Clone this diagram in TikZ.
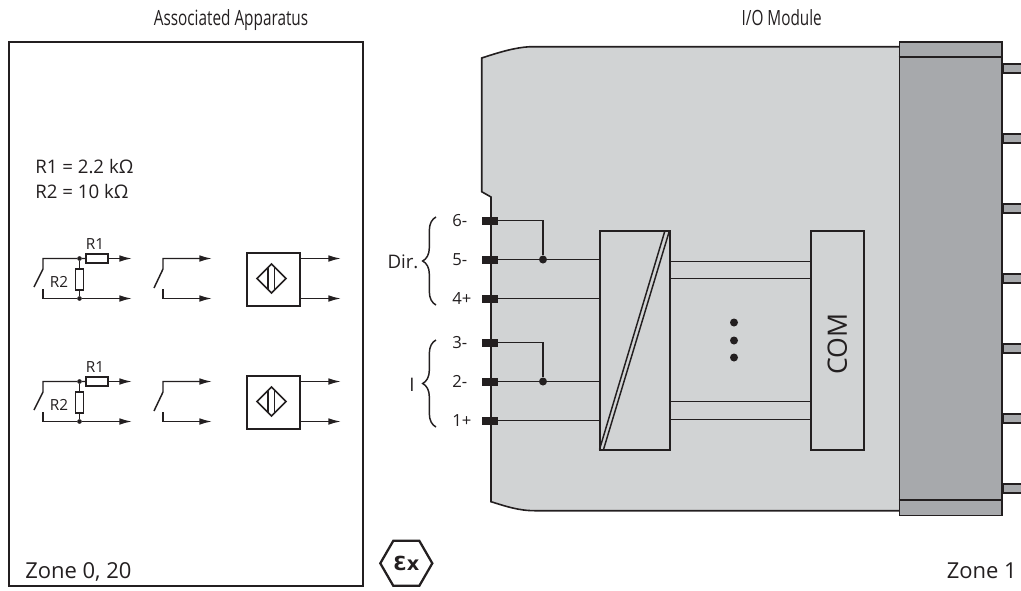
\documentclass[tikz,border=0pt]{standalone}
\usepackage{fontspec}
\setmainfont{Open Sans}
\newfontfamily\headfont[FakeStretch=0.73]{Open Sans}
\newfontfamily\exfont{DejaVu Sans}
\usetikzlibrary{positioning,shapes.geometric,arrows.meta,decorations.pathreplacing}
\definecolor{myink}{RGB}{35,31,32}
\definecolor{mylight}{RGB}{209,211,212}
\definecolor{mydark}{RGB}{167,169,172}

\tikzset{
  wire/.style={draw=myink,line width=1.1pt},
  arrowwire/.style={wire,-{Latex[length=9.5pt,width=5pt]}},
  box/.style={draw=myink,line width=1.5pt,inner sep=0pt,outer sep=0pt,rectangle},
  term/.style={fill=myink,inner sep=0pt,minimum width=12pt,minimum height=6pt},
  pin/.style={draw=myink,line width=1.1pt,fill=mydark,inner sep=0pt,minimum width=18pt,minimum height=6.5pt},
  joint/.style={circle,fill=myink,inner sep=0pt,minimum size=#1},
  joint/.default=6pt,
  txt/.style={font=\fontsize{14}{16}\selectfont,text=myink,inner sep=0pt},
  termtxt/.style={font=\fontsize{12.5}{15}\selectfont,text=myink,inner sep=0pt},
  small/.style={font=\fontsize{11.5}{13}\selectfont,text=myink,inner sep=0pt},
  zone/.style={font=\fontsize{16.5}{18}\selectfont,text=myink,inner sep=0pt},
  head/.style={font=\headfont\fontsize{15.75}{18}\selectfont,text=myink,inner sep=0pt},
  brace/.style={draw=myink,line width=1.1pt,decorate,decoration={brace,amplitude=10pt,aspect=.5}}
}

\begin{document}
\begin{tikzpicture}[x=.75pt,y=-.75pt]
\useasboundingbox (0,0) rectangle (1021,590);

\node[head,anchor=base] (headA) at (231,25) {Associated Apparatus};
\node[head,anchor=base] (headB) at (781.7,25) {I/O Module};

% left box
\node[box,minimum width=265.5pt,minimum height=408pt] (zonebox) at (185.5,313.5) {};
\node[txt,anchor=base west] (valA) at (35,173.3) {R1 = 2.2 kΩ};
\node[txt,anchor=base west] (valB) at (35,198.3) {R2 = 10 kΩ};
\node[zone,anchor=base west] (zoneA) at (25,578.3) {Zone 0, 20};
\node[zone,anchor=base east] (zoneB) at (1017,578.3) {Zone 1};

\foreach \row/\dy in {a/0,b/123}{
\begin{scope}[shift={(0,\dy)}]
  % resistor circuit
  \node[box,line width=1.1pt,minimum width=16.5pt,minimum height=6.5pt] (r1\row) at (97,258.5) {};
  \node[box,line width=1.1pt,minimum width=6pt,minimum height=16pt] (r2\row) at (79.5,279.5) {};
  \node[small,anchor=base] (l1\row) at (95,249.3) {R1};
  \node[small,anchor=base] (l2\row) at (59,287.7) {R2};
  \node[joint=3.5pt] (jt\row) at (79.5,258.5) {};
  \node[joint=3.5pt] (jb\row) at (79.5,298.5) {};
  \coordinate (sa\row) at (43,258.5);
  \coordinate (sb\row) at (43,298.5);
  \coordinate (ea\row) at (132,258.5);
  \coordinate (eb\row) at (132,298.5);
  \draw[wire] (34,287) -- (43,269) -- (sa\row) -- (jt\row) -- (r1\row);
  \draw[arrowwire] (r1\row) -- (ea\row);
  \draw[wire] (jt\row) -- (r2\row) -- (jb\row);
  \draw[wire] (43,289) -- (sb\row) -- (jb\row);
  \draw[arrowwire] (jb\row) -- (eb\row);
  % plain switch
  \coordinate (ta\row) at (163,258.5);
  \coordinate (tb\row) at (163,298.5);
  \draw[arrowwire] (154,288) -- (163,269) -- (ta\row) -- (212,258.5);
  \draw[arrowwire] (163,289) -- (tb\row) -- (212,298.5);
  % sensor
  \node[box,minimum width=39.75pt,minimum height=39.75pt] (sens\row) at (273,279) {};
  \node[diamond,draw=myink,line width=1.1pt,inner sep=0pt,outer sep=0pt,minimum size=21.75pt] (dia\row) at (271.5,278.5) {};
  \draw[wire] (268,267.5) -- (268,289.5) (274.5,267) -- (274.5,290);
  \draw[arrowwire] (sens\row.east |- ea\row) -- (341,258.5);
  \draw[arrowwire] (sens\row.east |- eb\row) -- (341,298.5);
\end{scope}
}

% Ex mark
\node[regular polygon,regular polygon sides=6,draw=myink,line width=1.7pt,inner sep=0pt,outer sep=0pt,minimum size=39pt] (exmark) at (406.3,563.3) {};
\node[font=\exfont\bfseries\fontsize{14.5}{15}\selectfont,text=myink,inner sep=0pt] (extext) at (406.3,563) {Ɛx};

% module
\draw[line width=1.2pt,draw=myink,fill=mylight] (900,46.7) -- (530,46.7) .. controls (515,47.5) and (500,52) .. (481.7,58)
  -- (481.7,191.7) -- (491,197) -- (491,501.7) .. controls (505,506) and (518,510.7) .. (535,510.7) -- (900,510.7) -- cycle;
\node[draw=myink,line width=1.3pt,fill=mydark,inner sep=0pt,minimum width=77pt,minimum height=355pt] (body) at (950.8,278.7) {};
\draw[draw=myink,line width=1.3pt] (body.west |- 0,56.7) -- (body.east |- 0,56.7);
\draw[draw=myink,line width=1pt] (body.west |- 0,500) -- (body.east |- 0,500);
\foreach \p/\py in {1/68.5,2/138.5,3/208.5,4/278.5,5/348.5,6/418.5,7/488.5}
  \node[pin] (pin\p) at (1015,\py) {};

% terminals
\foreach \t/\ty/\tl in {6/220.5/6-,5/259.5/5-,4/298.5/4+,3/342.5/3-,2/381.5/2-,1/420.5/1+}{
  \node[term] (t\t) at (490,\ty) {};
  \node[termtxt,anchor=base west] (n\t) at (452,\ty+5.5) {\tl};
}

% converter and COM
\node[box,minimum width=52.5pt,minimum height=164.25pt] (conv) at (634.5,340) {};
\node[box,minimum width=39.75pt,minimum height=164.25pt] (com) at (837,340) {};
\node[rotate=90,font=\fontsize{20}{22}\selectfont,text=myink,inner sep=0pt] (comlabel) at (837.4,344.3) {COM};
\draw[wire] (conv.south west) -- (665,230.5);
\draw[wire] (603.5,449.5) -- (conv.north east);

\node[joint] (j1) at (543,259.5) {};
\node[joint] (j2) at (543,381.5) {};
\draw[wire] (t6) -| (j1);
\draw[wire] (t3) -| (j2);
\draw[wire] (t5) -- (j1) -- (conv.west |- t5);
\draw[wire] (t2) -- (j2) -- (conv.west |- t2);
\draw[wire] (t4) -- (conv.west |- t4);
\draw[wire] (t1) -- (conv.west |- t1);
\foreach \wy in {261.5,278.5,401.5,419.5}
  \draw[wire] (conv.east |- 0,\wy) -- (com.west |- 0,\wy);
\foreach \d/\dy in {1/322.5,2/340.5,3/357.5}
  \node[joint] (dot\d) at (734,\dy) {};

% braces
\coordinate (bra) at (436,305);
\coordinate (brb) at (436,217);
\coordinate (brc) at (436,427);
\coordinate (brd) at (436,340);
\draw[brace] (bra) -- (brb);
\draw[brace] (brc) -- (brd);
\node[txt,anchor=base] (dir) at (403,268) {Dir.};
\node[txt,anchor=base] (cur) at (412,391) {I};
\end{tikzpicture}
\end{document}
